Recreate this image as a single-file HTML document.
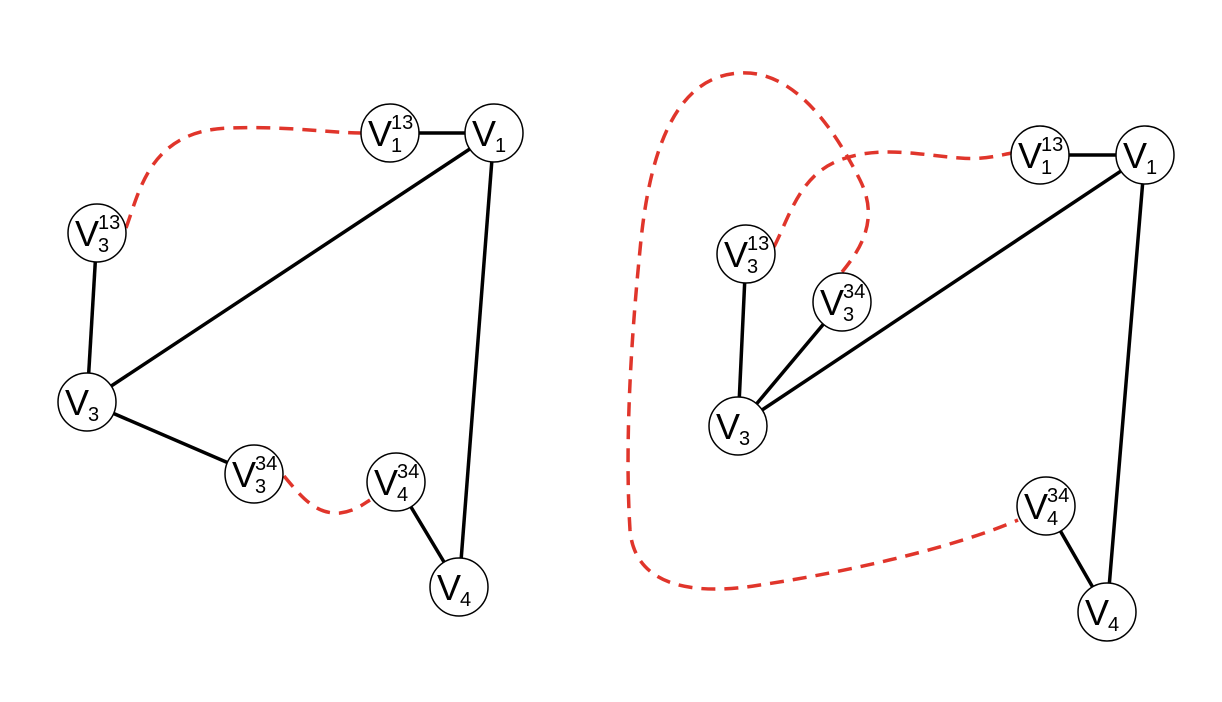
<!DOCTYPE html>
<html><head><meta charset="utf-8"><style>
html,body{margin:0;padding:0;background:#fff;}
svg{display:block;}
text{font-family:"Liberation Sans",sans-serif;fill:#000;}
.e{stroke:#000;stroke-width:3.5;fill:none;}
.r{stroke:#e0352b;stroke-width:3.5;fill:none;stroke-dasharray:14 9;}
.n{fill:#fff;stroke:#000;stroke-width:1.5;}
</style></head><body>
<svg width="1222" height="702" viewBox="0 0 1222 702">
<g>
<line class="e" x1="390" y1="133" x2="494" y2="133"/>
<line class="e" x1="494" y1="133" x2="87" y2="402"/>
<line class="e" x1="494" y1="133" x2="459" y2="587"/>
<line class="e" x1="97" y1="233" x2="87" y2="402"/>
<line class="e" x1="87" y1="402" x2="254" y2="474"/>
<line class="e" x1="396" y1="482" x2="459" y2="587"/>
<path class="r" d="M126,228 C140,190 150,130 230,128 C290,126 330,133 361,133"/>
<path class="r" d="M284,476 C300,495 315,515 340,513 C355,511 362,505 370,500"/>
</g>
<g>
<line class="e" x1="1040" y1="155" x2="1145" y2="155"/>
<line class="e" x1="1145" y1="155" x2="738" y2="426"/>
<line class="e" x1="1145" y1="155" x2="1107" y2="612"/>
<line class="e" x1="746" y1="254" x2="738" y2="426"/>
<line class="e" x1="842" y1="302" x2="738" y2="426"/>
<line class="e" x1="1046" y1="506" x2="1107" y2="612"/>
<path class="r" d="M774,247 C790,215 800,175 840,160 C880,145 920,155 960,158 C985,160 1000,155 1012,153"/>
<path class="r" d="M842,272 C860,250 880,220 860,180 C830,120 790,70 740,73 C680,76 650,140 640,250 C630,350 625,450 630,530 C635,590 700,595 760,585 C860,570 960,545 1018,520"/>
</g>
<g id="nodes"></g>
</svg>
<script>
const nodeLabels=[["1","13"],["1",""],["3","13"],["3",""],["3","34"],["4","34"],["4",""],["1","13"],["1",""],["3","13"],["3","34"],["3",""],["4","34"],["4",""]];
const nodeX=[390,494,97,87,254,396,459,1040,1145,746,842,738,1046,1107];
const nodeY=[133,133,233,402,474,482,587,155,155,254,302,426,506,612];
const g=document.getElementById('nodes');
const NS='http://www.w3.org/2000/svg';
for(let i=0;i<nodeX.length;i++){
  const grp=document.createElementNS(NS,'g');
  
  
  const c=document.createElementNS(NS,'circle');
  c.setAttribute('class','n');c.setAttribute('cx',nodeX[i]);c.setAttribute('cy',nodeY[i]);c.setAttribute('r',29);
  grp.appendChild(c);
  const t=document.createElementNS(NS,'text');
  t.setAttribute('x',nodeX[i]-22);t.setAttribute('y',nodeY[i]+13);
  t.setAttribute('font-size','36');
  t.textContent='V';
  grp.appendChild(t);
  const s=document.createElementNS(NS,'text');
  s.setAttribute('x',nodeX[i]+1);s.setAttribute('y',nodeY[i]+19);s.setAttribute('font-size','20');
  s.textContent=nodeLabels[i][0];grp.appendChild(s);
  if(nodeLabels[i][1]){
    const u=document.createElementNS(NS,'text');
    u.setAttribute('x',nodeX[i]+1);u.setAttribute('y',nodeY[i]-4);u.setAttribute('font-size','20');
    u.textContent=nodeLabels[i][1];grp.appendChild(u);
  }
  g.appendChild(grp);
}
</script>
</body></html>
